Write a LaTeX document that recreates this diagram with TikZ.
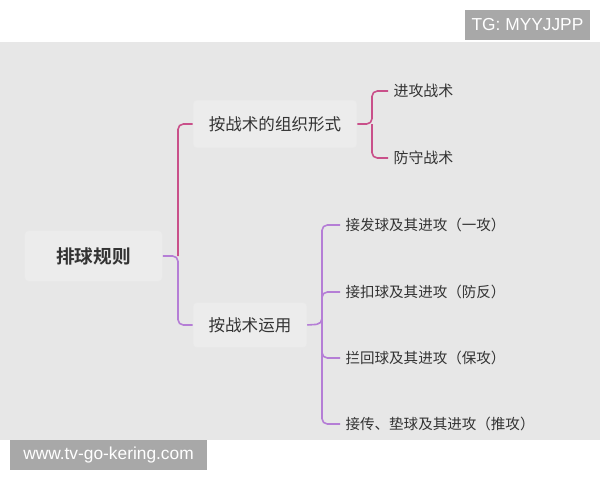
\documentclass[tikz,border=0pt]{standalone}
\usepackage{fontspec}
\setmainfont{Noto Sans CJK SC}[BoldFont={Noto Sans CJK SC Bold}]
\newfontfamily\wmfont{Liberation Sans}
\usetikzlibrary{positioning}
\definecolor{bggray}{HTML}{E7E7E7}
\definecolor{boxgray}{HTML}{ECECEC}
\definecolor{wmgray}{HTML}{A8A8A8}
\definecolor{pinkline}{HTML}{C9508A}
\definecolor{purpline}{HTML}{B57ED6}
\definecolor{txt}{HTML}{333333}

\begin{document}
\begin{tikzpicture}[x=0.75pt,y=-0.75pt]
		\tikzset{
			topic/.style={draw=black!9,fill=boxgray,rounded corners=3pt,text=txt,align=center},
			leaf/.style={anchor=west,inner xsep=4pt,text=txt,font=\fontsize{10.9}{12}\selectfont},
			wm/.style={fill=wmgray,text=white,inner sep=0pt,font=\wmfont\fontsize{13}{15}\selectfont},
			branch/.style={line width=1.2pt,rounded corners=4pt}
		}
		\useasboundingbox (0,0) rectangle (600,480);
		\fill[bggray] (0,42) rectangle (600,440);
		
		\node[wm,minimum width=93.75pt,minimum height=22.5pt] (tg) at (527.5,25) {TG: MYYJJPP};
		\node[wm,minimum width=147.75pt,minimum height=22.5pt] (site) at (108.5,455) {www.tv-go-kering.com};
		
		\node[topic,minimum width=103.5pt,minimum height=38pt,font=\bfseries\fontsize{14}{16}\selectfont] (root) at (93.5,256) {排球规则};
		\node[topic,minimum width=123pt,minimum height=36pt,font=\fontsize{12.4}{14}\selectfont] (form) at (275,124) {按战术的组织形式};
		\node[topic,minimum width=85.5pt,minimum height=34pt,font=\fontsize{12.4}{14}\selectfont] (use) at (250,325) {按战术运用};
		
		\node[leaf,font=\fontsize{11.2}{13}\selectfont] (att) at (388,91) {进攻战术};
		\node[leaf,font=\fontsize{11.2}{13}\selectfont] (def) at (388,158) {防守战术};
		
		\node[leaf] (u1) at (340,225) {接发球及其进攻（一攻）};
		\node[leaf] (u2) at (340,292) {接扣球及其进攻（防反）};
		\node[leaf] (u3) at (340,358) {拦回球及其进攻（保攻）};
		\node[leaf] (u4) at (340,424) {接传、垫球及其进攻（推攻）};
		
		\coordinate (t0) at (178,256);
		\coordinate (t1) at (372,124);
		\coordinate (t2) at (322,324);
		
		\draw[branch,purpline] (root.east) -- (t0) |- (use.west);
		\draw[branch,pinkline] (t0) |- (form.west);
		
		\draw[branch,pinkline] (form.east) -- (t1) |- (att.west);
		\draw[branch,pinkline] (t1) |- (def.west);
		
		\draw[branch,purpline] (use.east) -- (t2) |- (u1.west);
		\draw[branch,purpline] (t2) |- (u2.west);
		\draw[branch,purpline] (t2) |- (u3.west);
		\draw[branch,purpline] (t2) |- (u4.west);
\end{tikzpicture}
\end{document}
